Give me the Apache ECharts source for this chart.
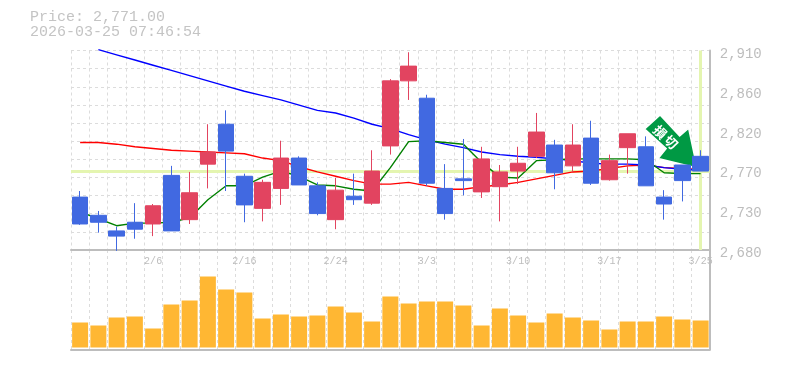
<!DOCTYPE html>
<html>
<head>
<meta charset="utf-8">
<style>
html, body { margin: 0; padding: 0; background: #fff; }
#chart { width: 785px; height: 370px; }
</style>
<script src="https://cdn.jsdelivr.net/npm/echarts@6/dist/echarts.min.js"></script>
</head>
<body>
<div id="chart"></div>
<script>
const lastPrice = 2771;
const stamp = '2026-03-25 07:46:54';
const dates = ['2/2', '2/3', '2/4', '2/5', '2/6', '2/9', '2/10', '2/12', '2/13', '2/16', '2/17', '2/18', '2/19', '2/20', '2/24', '2/25', '2/26', '2/27', '3/2', '3/3', '3/4', '3/5', '3/6', '3/9', '3/10', '3/11', '3/12', '3/13', '3/16', '3/17', '3/18', '3/19', '3/23', '3/24', '3/25'];
const opens = [2741, 2720, 2702, 2712, 2710, 2766, 2715, 2779, 2825, 2765, 2728, 2751, 2786, 2754, 2715, 2742, 2734, 2800, 2875, 2855, 2751, 2762, 2747, 2753, 2771, 2788, 2801, 2777, 2809, 2761, 2798, 2799, 2741, 2778, 2788];
const closes = [2710, 2712, 2696, 2704, 2731, 2702, 2746, 2793, 2794, 2732, 2758, 2786, 2755, 2722, 2749, 2738, 2771, 2875, 2892, 2757, 2722, 2760, 2785, 2770, 2780, 2816, 2769, 2801, 2757, 2783, 2814, 2754, 2733, 2760, 2771];
const lows = [2709, 2700, 2679, 2693, 2696, 2702, 2710, 2751, 2748, 2712, 2713, 2732, 2755, 2720, 2704, 2732, 2732, 2790, 2853, 2754, 2715, 2743, 2740, 2713, 2756, 2786, 2750, 2770, 2755, 2760, 2768, 2754, 2715, 2736, 2771];
const highs = [2748, 2725, 2707, 2734, 2733, 2777, 2770, 2825, 2841, 2768, 2761, 2806, 2788, 2758, 2763, 2768, 2795, 2877, 2908, 2859, 2779, 2808, 2799, 2778, 2799, 2838, 2807, 2825, 2829, 2790, 2814, 2811, 2749, 2778, 2795];
const maShort = [2724, 2716, 2708, 2711, 2711, 2712, 2717, 2738, 2754, 2754, 2764, 2771, 2765, 2755, 2754, 2750, 2748, 2775, 2805, 2806, 2804, 2802, 2781, 2764, 2763, 2783, 2784, 2785, 2785, 2785, 2785, 2784, 2769, 2768, 2768];
const maMid = [2804, 2804, 2802, 2799, 2797, 2795, 2794, 2793, 2792, 2791, 2786, 2783, 2776, 2770, 2765, 2760, 2756, 2756, 2758, 2754, 2750, 2750, 2753, 2755, 2758, 2762, 2766, 2770, 2771, 2774, 2777, 2778, 2775, 2774, 2773];
const maLong = [null, 2911, 2905, 2899, 2893, 2887, 2881, 2875, 2869, 2863, 2858, 2853, 2847, 2841, 2838, 2832, 2825, 2820, 2813, 2807, 2802, 2798, 2793, 2790, 2788, 2787, 2785, 2783, 2780, 2779, 2779, 2778, 2775, 2773, 2772];
const volumes = [25, 22, 30, 31, 19, 43, 47, 71, 58, 55, 29, 33, 31, 32, 41, 35, 26, 51, 44, 46, 46, 42, 22, 39, 32, 25, 34, 30, 27, 18, 26, 26, 31, 28, 27];
const priceTicks = ['2,680', '2,730', '2,770', '2,820', '2,860', '2,910'];

const gray = '#bdbdbd';
const mono = '"Liberation Mono", monospace';
const gridDash = { color: '#dcdcdc', width: 1, type: [3, 3] };

const chart = echarts.init(document.getElementById('chart'));
chart.setOption({
    animation: false,
    title: {
        left: 25,
        top: 5,
        text: 'Price: ' + lastPrice.toLocaleString('en-US', { minimumFractionDigits: 2 }) + '\n' + stamp,
        textStyle: { fontFamily: mono, fontSize: 15, fontWeight: 'normal', color: '#c4c4c4', lineHeight: 15 }
    },
    grid: [
        { left: 71, width: 638.75, top: 50.5, height: 199.5 },
        { left: 71, width: 638.75, top: 250, height: 99.5 }
    ],
    xAxis: [
        {
            type: 'category',
            gridIndex: 0,
            data: dates,
            axisLine: { lineStyle: { color: gray, width: 2 } },
            axisTick: { show: false },
            axisLabel: {
                margin: 6,
                interval: (i) => (i + 1) % 5 === 0,
                fontFamily: mono,
                fontSize: 10,
                color: gray
            },
            splitLine: { show: true, interval: 0, lineStyle: gridDash }
        },
        {
            type: 'category',
            gridIndex: 1,
            data: dates,
            axisLine: { onZero: false, lineStyle: { color: gray, width: 2 } },
            axisTick: { show: false },
            axisLabel: { show: false },
            splitLine: { show: true, interval: 0, lineStyle: gridDash }
        }
    ],
    yAxis: [
        {
            type: 'value',
            gridIndex: 0,
            position: 'right',
            min: 2680,
            max: 2910,
            interval: 46,
            axisLine: { show: true, lineStyle: { color: gray, width: 2 } },
            axisTick: { show: false },
            splitLine: { show: false },
            axisLabel: {
                margin: 10,
                verticalAlign: 'top',
                lineHeight: 7,
                fontFamily: mono,
                fontSize: 14,
                color: gray,
                formatter: (v) => priceTicks[Math.round((v - 2680) / 46)]
            }
        },
        {
            // only the dashed background rows
            type: 'value',
            gridIndex: 0,
            min: 2680,
            max: 2910,
            interval: 230 / 11,
            axisLine: { show: false },
            axisTick: { show: false },
            axisLabel: { show: false },
            splitLine: { show: true, lineStyle: gridDash }
        },
        {
            type: 'value',
            gridIndex: 1,
            position: 'right',
            min: -2,
            max: 97.5,
            axisLine: { show: true, onZero: false, lineStyle: { color: gray, width: 2 } },
            axisTick: { show: false },
            axisLabel: { show: false },
            splitLine: { show: false }
        }
    ],
    series: [
        {
            name: 'maMid',
            type: 'line',
            xAxisIndex: 0,
            yAxisIndex: 0,
            data: maMid,
            showSymbol: false,
            clip: false,
            z: 2,
            lineStyle: { color: '#ff0000', width: 1.4 },
            markLine: {
                silent: true,
                z: 1,
                symbol: 'none',
                label: { show: false },
                lineStyle: { color: '#e4f5b0', width: 3, type: 'solid' },
                data: [{ yAxis: lastPrice }, { xAxis: dates[dates.length - 1] }]
            }
        },
        {
            name: 'maLong',
            type: 'line',
            xAxisIndex: 0,
            yAxisIndex: 0,
            data: maLong,
            showSymbol: false,
            clip: false,
            z: 2,
            lineStyle: { color: '#0000ff', width: 1.4 }
        },
        {
            name: 'maShort',
            type: 'line',
            xAxisIndex: 0,
            yAxisIndex: 0,
            data: maShort,
            showSymbol: false,
            clip: false,
            z: 2,
            lineStyle: { color: '#008000', width: 1.4 }
        },
        {
            name: 'price',
            type: 'candlestick',
            xAxisIndex: 0,
            yAxisIndex: 0,
            barWidth: 16,
            clip: false,
            z: 4,
            data: dates.map((d, i) => [opens[i], closes[i], lows[i], highs[i]]),
            itemStyle: { color: '#e24460', color0: '#4169e1', borderColor: '#e24460', borderColor0: '#4169e1', borderWidth: 1 }
        },
        {
            name: 'volume',
            type: 'bar',
            xAxisIndex: 1,
            yAxisIndex: 2,
            barWidth: 16,
            data: volumes,
            itemStyle: { color: '#ffb733' }
        }
    ]
});

// 右端の損切バッジ, tip sits just off the last candle
const tip = chart.convertToPixel({ xAxisIndex: 0, yAxisIndex: 0 }, [dates[dates.length - 1], lastPrice]);
const arrowShape = [[-37, -53], [-52.5, -39], [-31, -19.5], [-39, -9.5], [0, 0], [-8.5, -40], [-17.5, -32]];
chart.setOption({
    graphic: [
        {
            type: 'group',
            x: tip[0] - 3.5,
            y: tip[1] - 3,
            z: 10,
            children: [
                {
                    type: 'polygon',
                    shape: { points: arrowShape },
                    style: { fill: '#009944', stroke: '#fff', lineWidth: 1.5 }
                },
                {
                    type: 'text',
                    x: -37,
                    y: -36,
                    rotation: -Math.PI / 4,
                    style: { text: '損', fill: '#fff', font: 'bold 13px "Noto Sans CJK JP"', align: 'center', verticalAlign: 'middle' }
                },
                {
                    type: 'text',
                    x: -26,
                    y: -26,
                    rotation: -Math.PI / 4,
                    style: { text: '切', fill: '#fff', font: 'bold 13px "Noto Sans CJK JP"', align: 'center', verticalAlign: 'middle' }
                }
            ]
        }
    ]
});
</script>
</body>
</html>
